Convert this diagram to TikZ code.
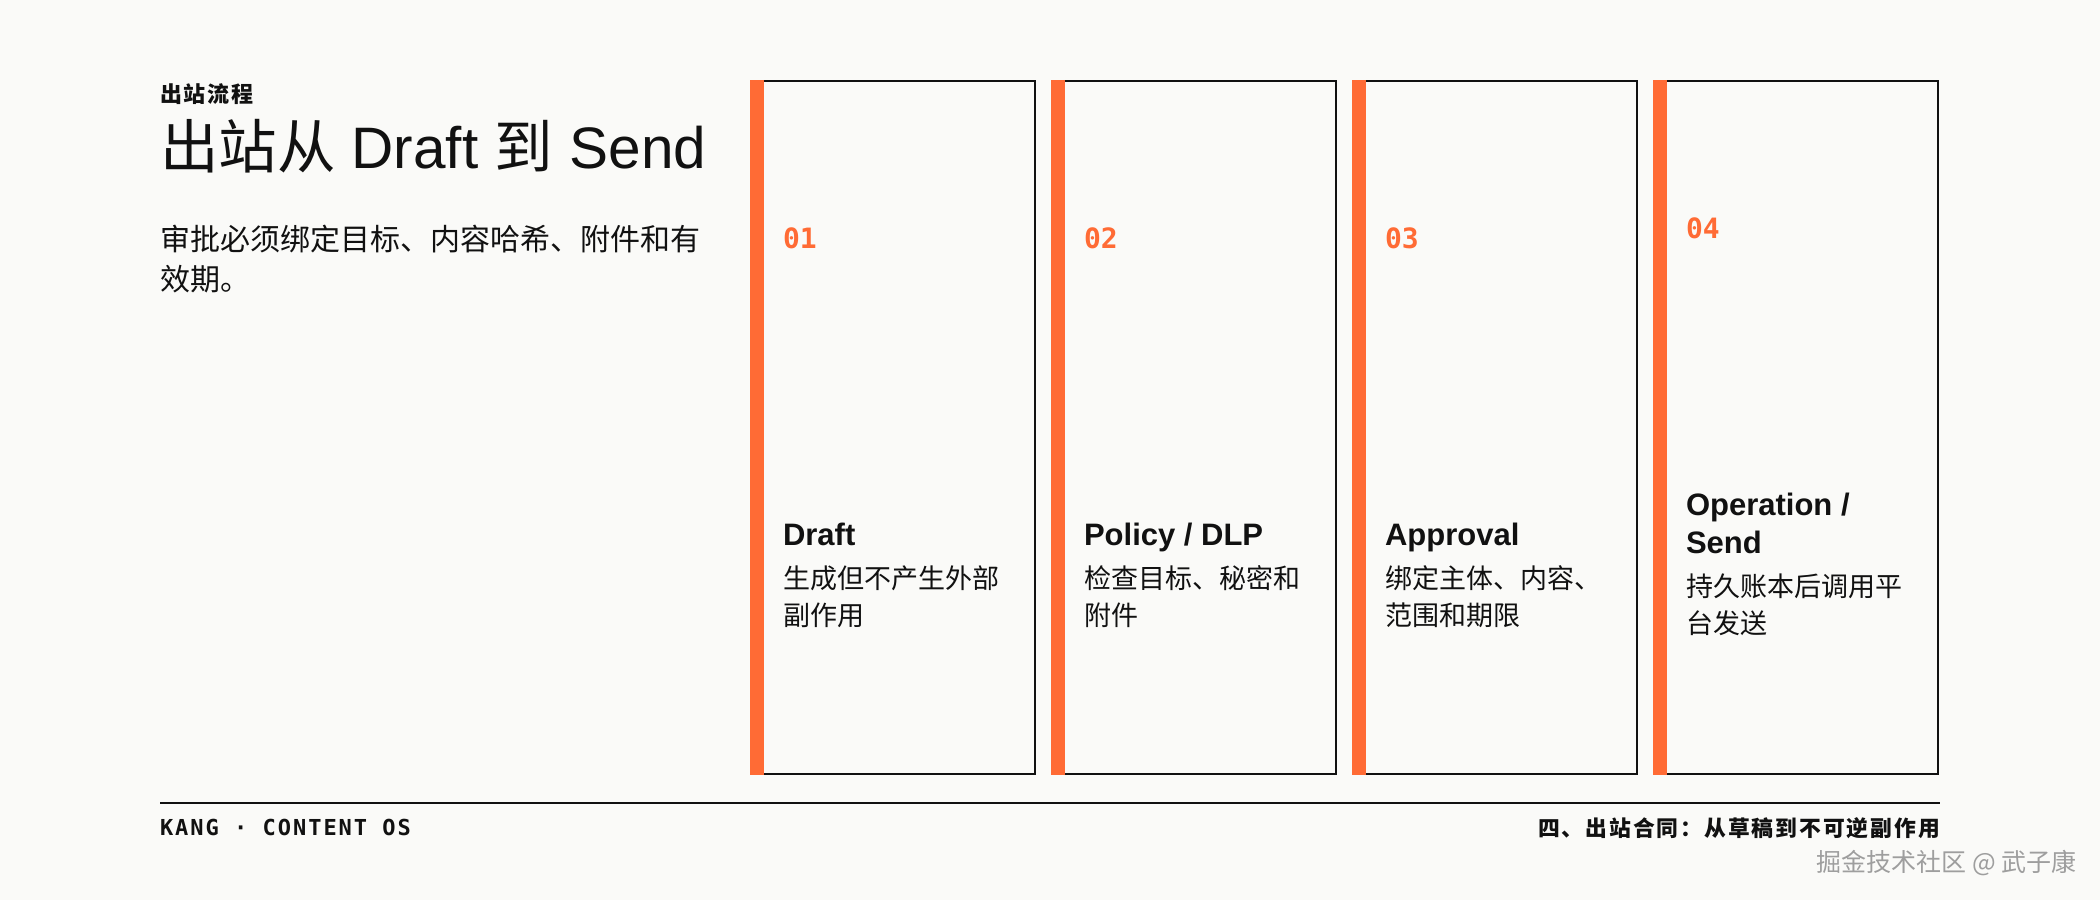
\documentclass[tikz,border=0pt]{standalone}
\usepackage{fontspec}
\setmainfont{Liberation Sans}
\newfontfamily\cjk{Noto Sans CJK SC}
\newfontfamily\cjkls{Noto Sans CJK SC}[LetterSpace=9]
\newfontfamily\monof{DejaVu Sans Mono}
\newfontfamily\monols{DejaVu Sans Mono}[LetterSpace=9]
\definecolor{bg}{HTML}{FAFAF8}
\definecolor{accent}{HTML}{FF6B35}
\definecolor{ink}{HTML}{111111}
\definecolor{wm}{HTML}{9E9E9E}
\tikzset{
  txt/.style={anchor=base west, inner sep=0pt, outer sep=0pt, text=ink},
  kicker/.style={txt, font=\cjkls\bfseries\fontsize{22}{25}\selectfont},
  headline/.style={txt, font=\fontsize{58.5}{64}\selectfont},
  lede/.style={txt, font=\cjk\fontsize{30}{40}\selectfont},
  stepnum/.style={txt, text=accent, font=\monof\bfseries\fontsize{28}{30}\selectfont},
  steptitle/.style={txt, font=\bfseries\fontsize{31}{36}\selectfont},
  stepbody/.style={txt, font=\cjk\fontsize{27}{36}\selectfont},
  footl/.style={txt, font=\monols\bfseries\fontsize{22}{26}\selectfont},
  footr/.style={txt, anchor=base east, font=\cjkls\bfseries\fontsize{21.8}{26}\selectfont},
  wmark/.style={anchor=base east, inner sep=0pt, text=wm, font=\cjk\fontsize{25}{28}\selectfont},
  cardline/.style={draw=ink, line width=2pt},
  cardbar/.style={fill=accent},
}
\begin{document}
\begin{tikzpicture}[x=1pt,y=-1pt]
\useasboundingbox (0,0) rectangle (2100,900);
\fill[bg] (0,0) rectangle (2100,900);

% cards
\foreach \x in {750,1051,1352,1653} {
  \draw[cardline] (\x+14,81) -- (\x+285,81) -- (\x+285,774) -- (\x+14,774);
  \fill[cardbar] (\x,80) rectangle (\x+14,775);
}

% left column
\node[kicker] (kick) at (160,102) {出站流程};
\node[headline] (title) at (160,168) {{\cjk 出站从} Draft {\cjk 到} Send};
\node[lede] (lede1) at (160,250) {审批必须绑定目标、内容哈希、附件和有};
\node[lede] (lede2) at (160,290) {效期。};

% card 1
\node[stepnum] (n1) at (783,248) {01};
\node[steptitle] (t1) at (783,545) {Draft};
\node[stepbody] (b1a) at (783,588) {生成但不产生外部};
\node[stepbody] (b1b) at (783,625) {副作用};

% card 2
\node[stepnum] (n2) at (1084,248) {02};
\node[steptitle] (t2) at (1084,545) {Policy / DLP};
\node[stepbody] (b2a) at (1084,588) {检查目标、秘密和};
\node[stepbody] (b2b) at (1084,625) {附件};

% card 3
\node[stepnum] (n3) at (1385,248) {03};
\node[steptitle] (t3) at (1385,545) {Approval};
\node[stepbody] (b3a) at (1385,588) {绑定主体、内容、};
\node[stepbody] (b3b) at (1385,625) {范围和期限};

% card 4
\node[stepnum] (n4) at (1686,238) {04};
\node[steptitle] (t4a) at (1686,515) {Operation /};
\node[steptitle] (t4b) at (1686,553) {Send};
\node[stepbody] (b4a) at (1686,596) {持久账本后调用平};
\node[stepbody] (b4b) at (1686,633) {台发送};

% footer
\coordinate (rl) at (160,803);
\coordinate (rr) at (1940,803);
\draw[cardline] (rl) -- (rr);
\node[footl] (fl) at (160,835) {KANG · CONTENT OS};
\node[footr] (fr) at (1940,836) {四、出站合同：从草稿到不可逆副作用};
\node[wmark] (wmk) at (2077,871) {掘金技术社区 @ 武子康};
\end{tikzpicture}
\end{document}
